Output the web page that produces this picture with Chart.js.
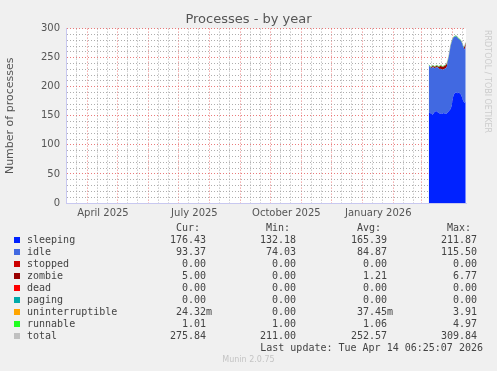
<!DOCTYPE html>
<html>
<head>
<meta charset="utf-8">
<script src="https://cdn.jsdelivr.net/npm/chart.js@4/dist/chart.umd.min.js"></script>
<style>
  html, body { margin: 0; padding: 0; background: #f0f0f0; }
  #wrap { position: relative; width: 497px; height: 371px; overflow: hidden; }
  #chart { position: absolute; left: 0; top: 0; }
  .mono { position: absolute; font-family: 'DejaVu Sans Mono', monospace; font-size: 10px; line-height: 12px; color: #444; white-space: pre; }
  .swatch { position: absolute; width: 6px; height: 6px; }
  #munin { position: absolute; left: 0; width: 497px; top: 355px; text-align: center; font-family: 'DejaVu Sans', sans-serif; font-size: 8px; color: #c4c4c4; }
  #rrd { position: absolute; left: 483px; top: 30px; writing-mode: vertical-rl; font-family: 'DejaVu Sans', sans-serif; font-size: 8px; color: #cccccc; white-space: pre; }
</style>
</head>
<body>
<div id="wrap">
  <canvas id="chart" width="497" height="230"></canvas>
  <div id="rrd">RRDTOOL / TOBI OETIKER</div>
  <div id="legend"></div>
  <div id="munin">Munin 2.0.75</div>
</div>
<script>
// values, one point per day from 8 March 2026 to 14 April 2026
const firstDay = Date.UTC(2026, 2, 8);
const sleeping = [155,156,154,153,152,155,157,158,158,156,155,154,154,153,154,155,154,153,154,156,158,160,162,168,180,186,189,190,190,189,190,189,187,183,178,174,172,176];
const idle = [82,79,79,79,82,78,75,75,76,77,77,76,77,77,75,75,77,79,80,88,93,101,109,109,102,99,97,97,96,95,92,92,92,93,93,93,92,94];
const stopped = [0,0,0,0,0,0,0,0,0,0,0,0,0,0,0,0,0,0,0,0,0,0,0,0,0,0,0,0,0,0,0,0,0,0,0,0,0,0];
const zombie = [0,0,0,2,2,2,2,2,2,2,2,5,5,5,5,5,5,5,5,0,0,0,0,0,0,0,0,0,0,0,0,0,0,0,0,0,5,5];
const dead = [0,0,0,0,0,0,0,0,0,0,0,0,0,0,0,0,0,0,0,0,0,0,0,0,0,0,0,0,0,0,0,0,0,0,0,0,0,0];
const paging = [0,0,0,0,0,0,0,0,0,0,0,0,0,0,0,0,0,0,0,0,0,0,0,0,0,0,0,0,0,0,0,0,0,0,0,0,0,0];
const uninterruptible = [0,0,0,0,0,0.05,0,0,0,0,0,0,0,0,0,0.04,0,0,0,0,0,0,0,0,0,0,0,0,0,0,0,0,0,0,0,0,0,0.02];
const runnable = [1,1,1,1,1,1.2,1,1,1,1,1,1,1,1.1,1,1,1,1,1,1.3,1,1,1,1,1,1,1,1,1,1,1,1,1,1,1,1,1,1.01];
const total = [238,236,234,235,237,236,235,236,237,236,235,236,237,236,235,236,237,238,240,245,252,262,272,278,283,286,287,288,287,285,283,282,280,277,272,268,270,276];

const seriesNames = ['sleeping','idle','stopped','zombie','dead','paging','uninterruptible','runnable','total'];
const seriesColors = ['#0022ff','#4169e1','#cc0000','#990000','#ff0000','#00aaaa','#ffa500','#22ff22','#c0c0c0'];
const curVals = ['176.43','93.37','0.00','5.00','0.00','0.00','24.32m','1.01','275.84'];
const minVals = ['132.18','74.03','0.00','0.00','0.00','0.00','0.00','1.00','211.00'];
const avgVals = ['165.39','84.87','0.00','1.21','0.00','0.00','37.45m','1.06','252.57'];
const maxVals = ['211.87','115.50','0.00','6.77','0.00','0.00','3.91','4.97','309.84'];
const yTicks = [0, 50, 100, 150, 200, 250, 300];
const monthLabels = ['April 2025', 'July 2025', 'October 2025', 'January 2026'];

const DAY = 86400000;
const xMin = Date.UTC(2025, 2, 10);
const xMax = Date.UTC(2026, 3, 14, 6, 25);

// x grid: red line on the 1st of each month, grey on the 11th and 21st, labels mid-month
const majorX = [], minorX = [], labelX = {};
for (let m = 2; m <= 15; m++) {
  const y = 2025 + Math.floor(m / 12), mo = m % 12;
  const d1 = Date.UTC(y, mo, 1);
  if (d1 >= xMin && d1 <= xMax) majorX.push(d1);
  [11, 21].forEach(d => {
    const t = Date.UTC(y, mo, d);
    if (t >= xMin && t <= xMax) minorX.push(t);
  });
}
labelX[Date.UTC(2025, 3, 16)] = monthLabels[0];
labelX[Date.UTC(2025, 6, 16, 12)] = monthLabels[1];
labelX[Date.UTC(2025, 9, 16, 12)] = monthLabels[2];
labelX[Date.UTC(2026, 0, 16, 12)] = monthLabels[3];

const MAJOR = 'rgba(230,100,100,0.85)';
const MINOR = 'rgba(160,160,160,0.85)';

const pts = arr => arr.map((v, i) => ({ x: firstDay + i * DAY, y: v }));

const areaSet = (i, arr) => ({
  label: seriesNames[i],
  data: pts(arr),
  yAxisID: 'y',
  stack: 'procs',
  backgroundColor: seriesColors[i],
  borderColor: seriesColors[i],
  borderWidth: 0,
  pointRadius: 0,
  fill: i === 0 ? 'origin' : '-1'
});

const plotBg = {
  id: 'plotBg',
  beforeDraw(chart) {
    const a = chart.chartArea, c = chart.ctx;
    c.save();
    c.fillStyle = '#ffffff';
    c.fillRect(a.left, a.top, a.right - a.left, a.bottom - a.top);
    c.restore();
  }
};

const ctx = document.getElementById('chart');
new Chart(ctx, {
  type: 'line',
  data: {
    datasets: [
      areaSet(0, sleeping),
      areaSet(1, idle),
      areaSet(2, stopped),
      areaSet(3, zombie),
      areaSet(4, dead),
      areaSet(5, paging),
      areaSet(6, uninterruptible),
      areaSet(7, runnable),
      {
        label: 'total',
        data: pts(total),
        yAxisID: 'y',
        stack: 'total',
        borderColor: seriesColors[8],
        borderWidth: 1,
        pointRadius: 0,
        fill: false
      }
    ]
  },
  options: {
    responsive: false,
    animation: false,
    devicePixelRatio: 1,
    layout: { padding: 0 },
    plugins: {
      legend: { display: false },
      tooltip: { enabled: false },
      title: {
        display: true,
        text: 'Processes - by year',
        color: '#555555',
        font: { family: 'DejaVu Sans', size: 13, weight: 'normal' },
        padding: { top: 12, bottom: 1 }
      }
    },
    scales: {
      x: {
        type: 'linear',
        min: xMin,
        max: xMax,
        afterBuildTicks: axis => {
          const vals = majorX.concat(minorX, Object.keys(labelX).map(Number)).sort((a, b) => a - b);
          axis.ticks = vals.map(v => ({ value: v }));
        },
        afterFit: s => { s.height = 27; },
        ticks: {
          autoSkip: false,
          maxRotation: 0,
          minRotation: 0,
          padding: 4,
          color: '#555555',
          font: { family: 'DejaVu Sans', size: 10 },
          callback: v => labelX[v] || ''
        },
        grid: {
          drawTicks: false,
          color: c => {
            const v = c.tick && c.tick.value;
            if (majorX.includes(v)) return MAJOR;
            if (minorX.includes(v)) return MINOR;
            return 'rgba(0,0,0,0)';
          }
        },
        border: { color: '#c8c8f0', dash: [1, 2] }
      },
      y: {
        stacked: true,
        min: 0,
        max: 300,
        afterFit: s => { s.width = 66; },
        ticks: {
          stepSize: 10,
          autoSkip: false,
          padding: 6,
          color: '#555555',
          font: { family: 'DejaVu Sans', size: 10 },
          callback: v => yTicks.includes(v) ? String(v) : ''
        },
        grid: {
          drawTicks: false,
          color: c => (c.tick && c.tick.value % 50 === 0) ? MAJOR : MINOR
        },
        border: { color: '#c8c8f0', dash: [1, 2] },
        title: {
          display: true,
          text: 'Number of processes',
          color: '#555555',
          font: { family: 'DejaVu Sans', size: 11 },
          padding: { top: 4, bottom: 0 }
        }
      },
      y2: {
        position: 'right',
        display: true,
        afterFit: s => { s.width = 31; },
        grid: { display: false, drawTicks: false },
        ticks: { display: false },
        border: { display: false }
      }
    }
  },
  plugins: [plotBg]
});

// legend table under the graph, laid out like the munin text block
const legend = document.getElementById('legend');
const addText = (txt, top, opts) => {
  const el = document.createElement('div');
  el.className = 'mono';
  el.textContent = txt;
  el.style.top = top + 'px';
  if (opts.left !== undefined) el.style.left = opts.left + 'px';
  if (opts.right !== undefined) el.style.right = (497 - opts.right) + 'px';
  legend.appendChild(el);
};
const colRight = [206, 296, 387, 477];
['Cur:', 'Min:', 'Avg:', 'Max:'].forEach((h, c) => addText(h, 222, { right: colRight[c] - 6 }));
seriesNames.forEach((name, i) => {
  const top = 234 + i * 12;
  const sw = document.createElement('div');
  sw.className = 'swatch';
  sw.style.left = '14px';
  sw.style.top = (top + 3) + 'px';
  sw.style.background = seriesColors[i];
  legend.appendChild(sw);
  addText(name, top, { left: 27 });
  [curVals, minVals, avgVals, maxVals].forEach((col, c) => {
    const s = col[i];
    const suffix = /[a-zA-Z]$/.test(s);
    addText(s, top, { right: colRight[c] + (suffix ? 6 : 0) });
  });
});
addText('Last update: Tue Apr 14 06:25:07 2026', 342, { right: 483 });
</script>
</body>
</html>
